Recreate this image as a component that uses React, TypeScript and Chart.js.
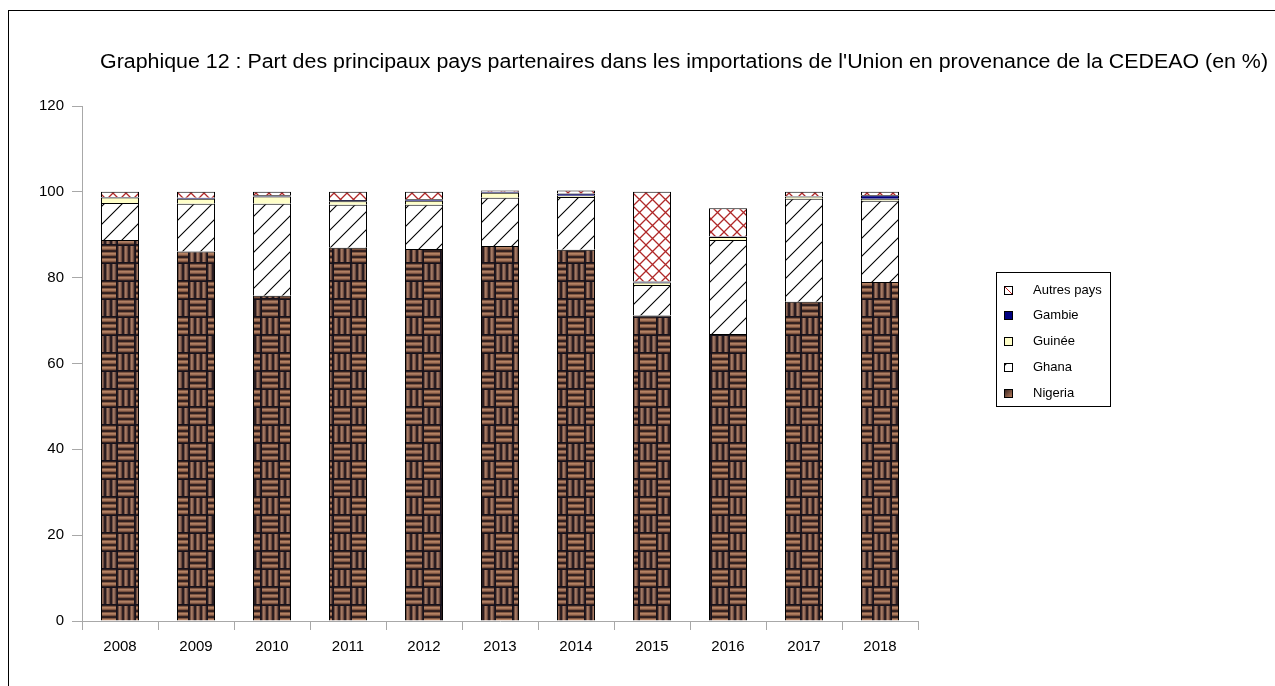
import React, { useEffect, useRef } from 'react';
import { Chart, registerables } from 'chart.js';
Chart.register(...registerables);

const years = ['2008', '2009', '2010', '2011', '2012', '2013', '2014', '2015', '2016', '2017', '2018'];
const nigeria = [88.8, 86.1, 75.8, 87.0, 86.7, 87.4, 86.5, 71.2, 66.9, 74.4, 79.0];
const ghana = [8.6, 11.1, 21.4, 10.0, 10.3, 11.2, 12.3, 7.1, 21.9, 24.0, 18.9];
const guinee = [1.3, 1.2, 1.7, 0.8, 0.9, 1.2, 0.3, 0.6, 0.7, 0.5, 0.5];
const gambie = [0.1, 0.2, 0.3, 0.3, 0.4, 0.2, 0.5, 0.2, 0.1, 0.1, 0.8];
const autres = [1.2, 1.4, 0.8, 1.9, 1.7, 0.3, 0.7, 20.9, 6.6, 1.0, 0.8];
const seriesNames = ['Nigeria', 'Ghana', 'Guinée', 'Gambie', 'Autres pays'];
const yTicks = [0, 20, 40, 60, 80, 100, 120];
const titleText = "Graphique 12 : Part des principaux pays partenaires dans les importations de l'Union en provenance de la CEDEAO (en %)";

const FONT = "'Liberation Sans', Arial, sans-serif";

function makeTile(w: number, h: number, draw: (c: CanvasRenderingContext2D) => void) {
  const c = document.createElement('canvas');
  c.width = w;
  c.height = h;
  const ctx = c.getContext('2d') as CanvasRenderingContext2D;
  draw(ctx);
  return c;
}

function weaveTile() {
  const B = 18;
  return makeTile(B * 2, B * 2, (c) => {
    c.fillStyle = '#16121c';
    c.fillRect(0, 0, B * 2, B * 2);
    const strand = (x: number, y: number, horiz: boolean, shade: number) => {
      for (let i = 0; i < 3; i++) {
        const off = i * 6 + 0.5;
        const g = horiz
          ? c.createLinearGradient(0, y + off, 0, y + off + 5)
          : c.createLinearGradient(x + off, 0, x + off + 5, 0);
        g.addColorStop(0, `rgba(${70 + shade},${42 + shade / 2},${34},1)`);
        g.addColorStop(0.45, `rgba(${190 + shade},${138 + shade / 2},${108},1)`);
        g.addColorStop(1, `rgba(${80 + shade},${48 + shade / 2},${38},1)`);
        c.fillStyle = g;
        if (horiz) c.fillRect(x + 1, y + off, B - 2, 5);
        else c.fillRect(x + off, y + 1, 5, B - 2);
      }
    };
    strand(0, 0, true, 0);
    strand(B, 0, false, -15);
    strand(0, B, false, -10);
    strand(B, B, true, 5);
  });
}

function hatchTile() {
  const T = 18;
  return makeTile(T, T, (c) => {
    c.fillStyle = '#ffffff';
    c.fillRect(0, 0, T, T);
    c.strokeStyle = '#000000';
    c.lineWidth = 1.1;
    c.beginPath();
    c.moveTo(-1, T + 1);
    c.lineTo(T + 1, -1);
    c.moveTo(-1, 1);
    c.lineTo(1, -1);
    c.moveTo(T - 1, T + 1);
    c.lineTo(T + 1, T - 1);
    c.stroke();
  });
}

function crossTile() {
  const T = 13;
  return makeTile(T, T, (c) => {
    c.fillStyle = '#ffffff';
    c.fillRect(0, 0, T, T);
    c.strokeStyle = '#b02828';
    c.lineWidth = 1.3;
    c.beginPath();
    c.moveTo(-1, T + 1);
    c.lineTo(T + 1, -1);
    c.moveTo(-1, -1);
    c.lineTo(T + 1, T + 1);
    c.stroke();
  });
}

export default function App() {
  const ref = useRef<HTMLCanvasElement | null>(null);

  useEffect(() => {
    const canvas = ref.current;
    if (!canvas) return;
    const ctx = canvas.getContext('2d') as CanvasRenderingContext2D;
    const pNigeria = ctx.createPattern(weaveTile(), 'repeat') as CanvasPattern;
    const pGhana = ctx.createPattern(hatchTile(), 'repeat') as CanvasPattern;
    const pAutres = ctx.createPattern(crossTile(), 'repeat') as CanvasPattern;
    const fills: any[] = [pNigeria, pGhana, '#ffffc8', '#000080', pAutres];
    const values = [nigeria, ghana, guinee, gambie, autres];

    const overlay = {
      id: 'overlay',
      afterDraw(chart: any) {
        const c = chart.ctx as CanvasRenderingContext2D;
        c.save();
        c.font = `20px ${FONT}`;
        c.fillStyle = '#000';
        c.textBaseline = 'alphabetic';
        c.textAlign = 'left';
        const w = c.measureText(titleText).width;
        const target = 1168;
        c.translate(91, 57);
        c.scale(target / w, 1);
        c.fillText(titleText, 0, 0);
        c.restore();

        c.save();
        const bx = 987.5, by = 261.5, bw = 114, bh = 134;
        c.strokeStyle = '#000';
        c.lineWidth = 1;
        c.strokeRect(bx, by, bw, bh);
        c.font = `13px ${FONT}`;
        c.textBaseline = 'middle';
        c.textAlign = 'left';
        for (let i = 0; i < 5; i++) {
          const k = 4 - i;
          const cy = 278.5 + i * 25.8;
          const mx = 995, my = Math.round(cy - 4);
          const s = 8;
          if (k === 0) {
            const g = c.createLinearGradient(mx, my, mx + s, my + s);
            g.addColorStop(0, '#2a1a1a');
            g.addColorStop(1, '#b57a5a');
            c.fillStyle = g;
            c.fillRect(mx, my, s, s);
          } else if (k === 4) {
            c.fillStyle = '#fff';
            c.fillRect(mx, my, s, s);
            c.strokeStyle = '#c02020';
            c.beginPath();
            c.moveTo(mx, my);
            c.lineTo(mx + s, my + s);
            c.stroke();
          } else {
            c.fillStyle = fills[k];
            c.fillRect(mx, my, s, s);
          }
          c.strokeStyle = '#000';
          c.strokeRect(mx + 0.5, my + 0.5, s, s);
          c.fillStyle = '#000';
          c.fillText(seriesNames[k], 1024, cy + 0.5);
        }
        c.restore();
      },
    };

    const chart = new Chart(canvas, {
      type: 'bar',
      data: {
        labels: years,
        datasets: values.map((v, i) => ({
          label: seriesNames[i],
          data: v,
          backgroundColor: fills[i],
          borderColor: '#000',
          borderWidth: 1,
          barPercentage: 0.5,
          categoryPercentage: 1,
        })),
      },
      options: {
        responsive: false,
        animation: false,
        layout: { padding: { left: 0, top: 95, right: 357, bottom: 20 } },
        plugins: {
          legend: { display: false },
          tooltip: { enabled: false },
          title: { display: false },
        },
        scales: {
          x: {
            stacked: true,
            grid: { display: true, drawOnChartArea: false, drawTicks: true, tickLength: 9, color: '#a8a8a8', offset: true },
            border: { display: true, color: '#a8a8a8' },
            ticks: { color: '#000', font: { family: FONT, size: 15 }, padding: 8 },
            afterFit: (s: any) => { s.height = 45; },
          },
          y: {
            stacked: true,
            min: yTicks[0],
            max: yTicks[yTicks.length - 1],
            afterBuildTicks: (s: any) => { s.ticks = yTicks.map((v) => ({ value: v })); },
            ticks: { color: '#000', font: { family: FONT, size: 15 }, padding: 8 },
            grid: { drawOnChartArea: false, drawTicks: true, tickLength: 10, color: '#a8a8a8' },
            border: { display: true, color: '#a8a8a8' },
            afterFit: (s: any) => { s.width = 73; },
          },
        },
      },
      plugins: [overlay],
    } as any);
    return () => chart.destroy();
  }, []);

  return (
    <div
      style={{
        position: 'absolute',
        left: 8,
        top: 10,
        width: 1267,
        height: 676,
        borderLeft: '1px solid #000',
        borderTop: '1px solid #000',
        boxSizing: 'border-box',
        background: '#fff',
      }}
    >
      <canvas ref={ref} width={1266} height={675} style={{ display: 'block' }} />
    </div>
  );
}
